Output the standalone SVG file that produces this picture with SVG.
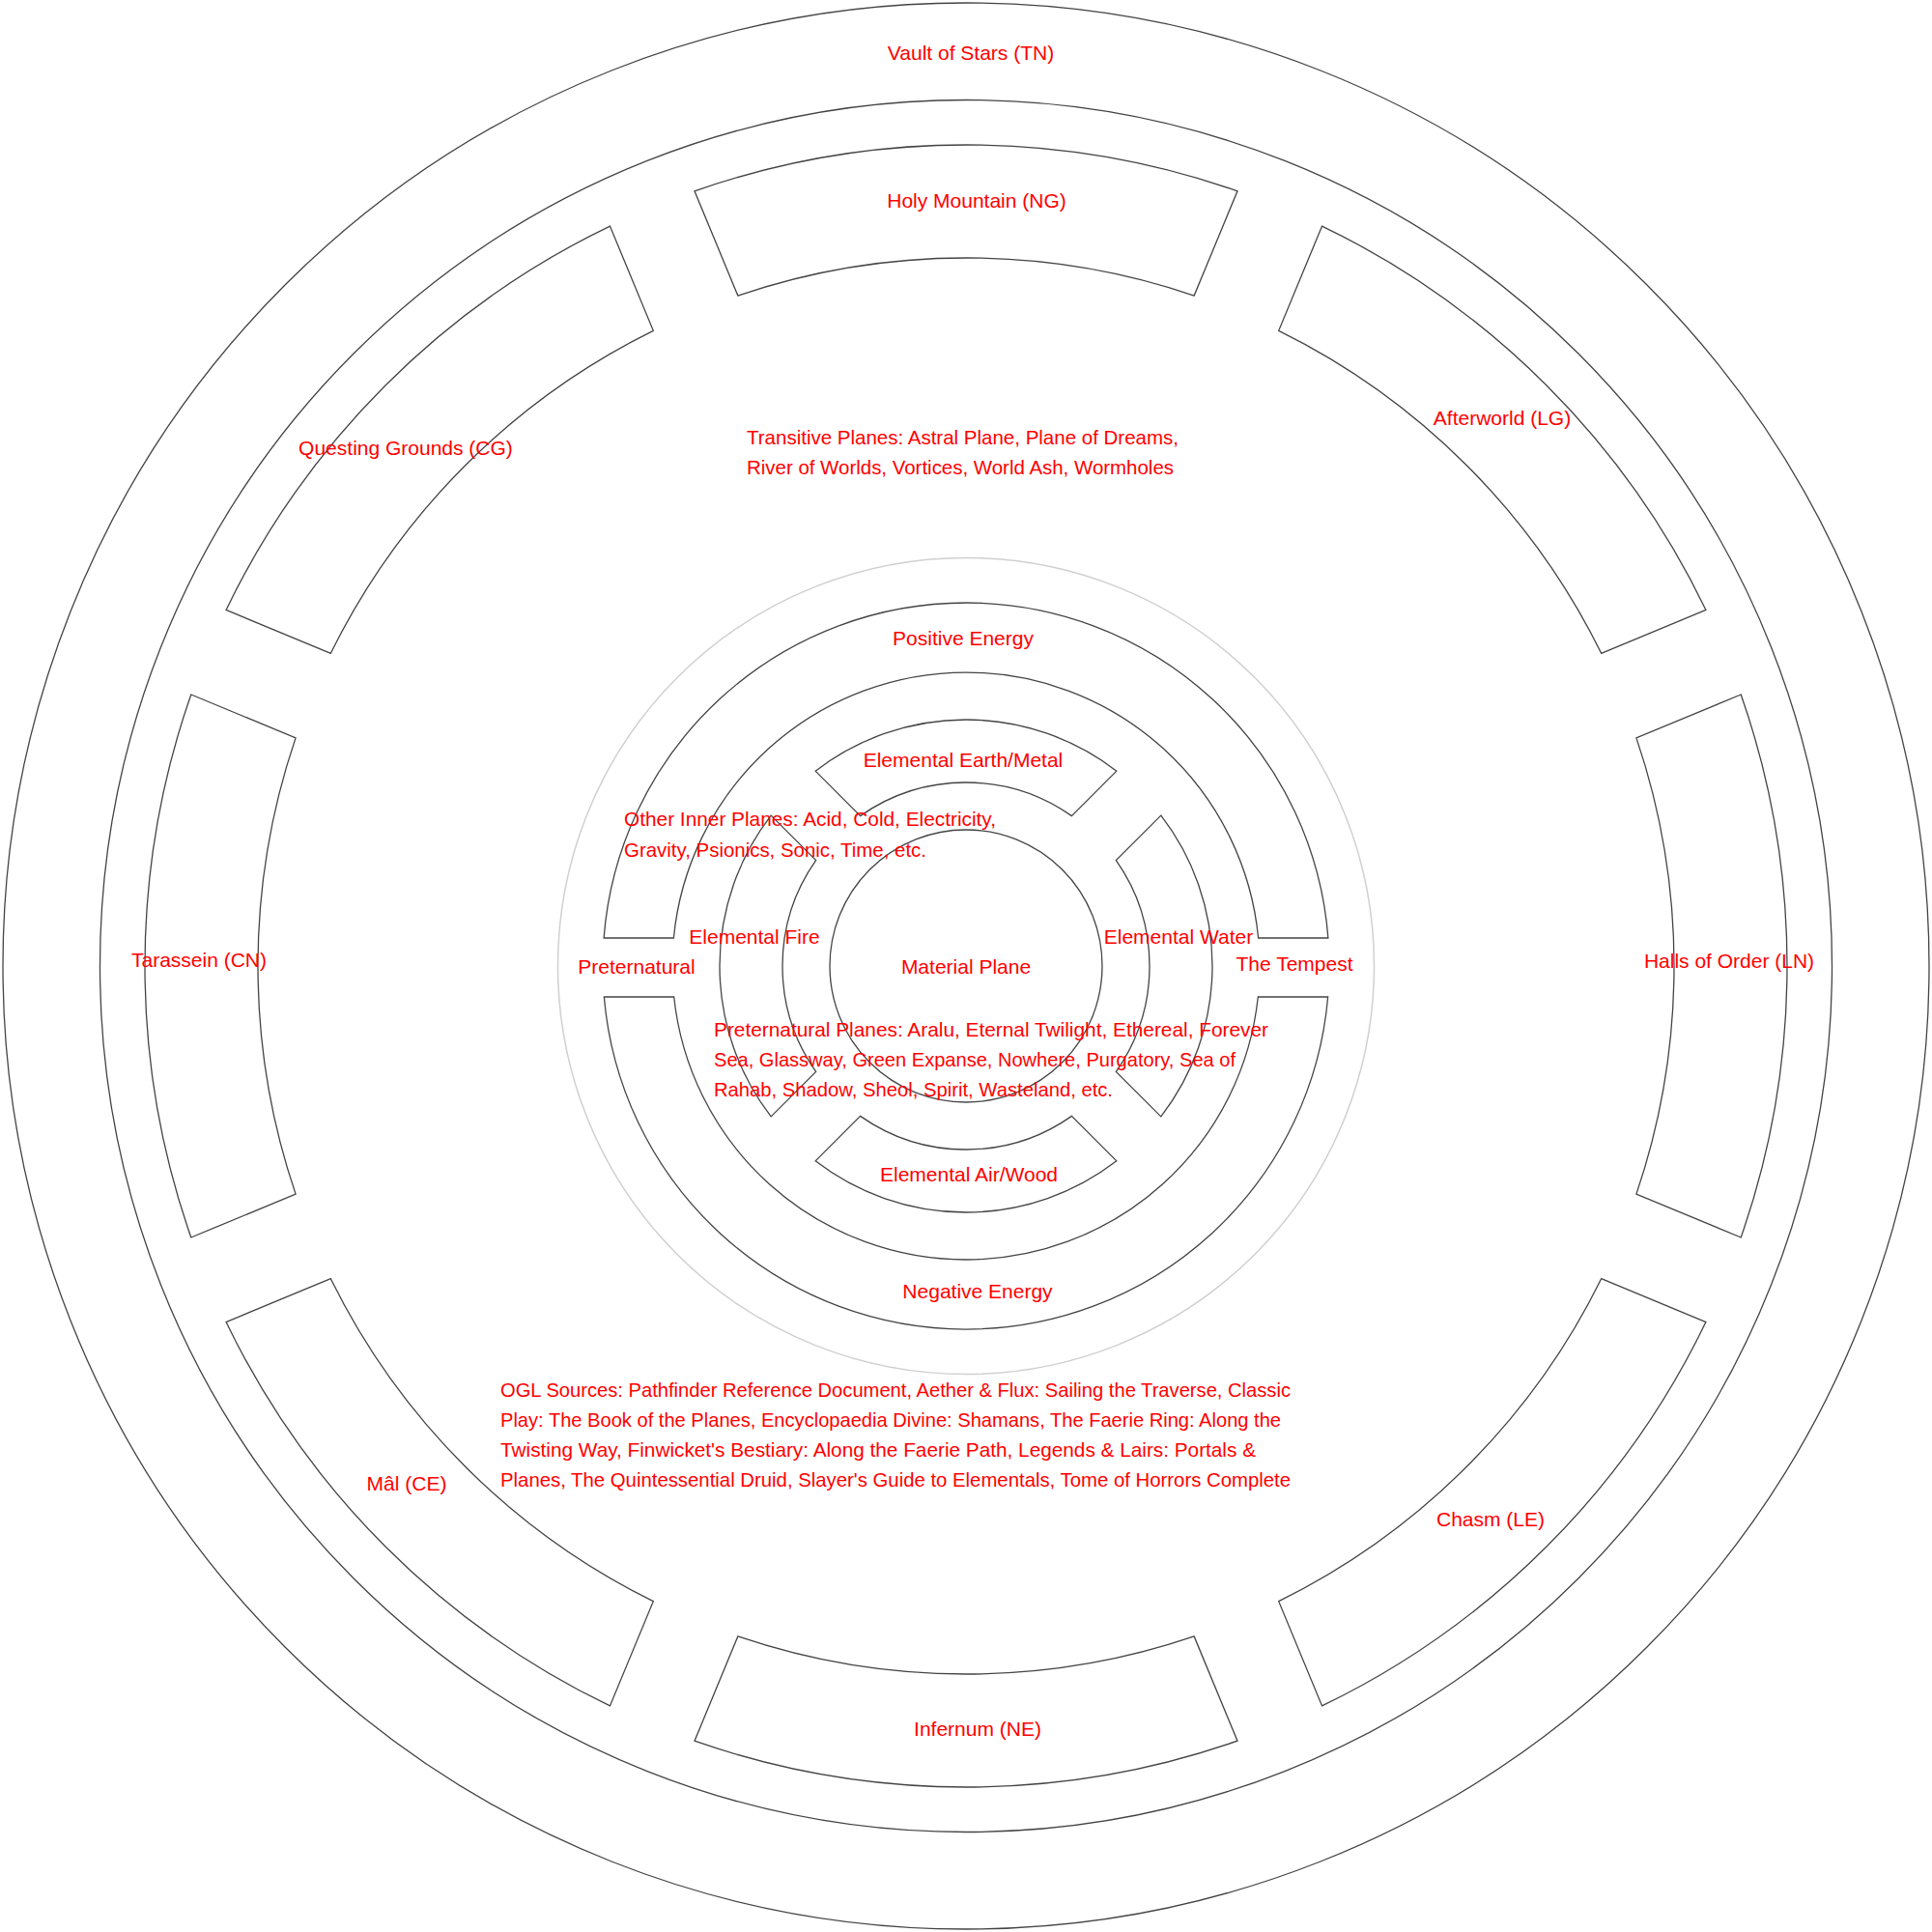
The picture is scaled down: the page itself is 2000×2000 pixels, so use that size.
<svg xmlns="http://www.w3.org/2000/svg" xmlns:xlink="http://www.w3.org/1999/xlink" width="2000" height="2000" viewBox="0 0 2000 2000">
<style>
  .line{fill:none;stroke:#444444;stroke-width:1.3}
  .halo{fill:none;stroke:#d0d0d0;stroke-width:1.5}
  text{font-family:"Liberation Sans",Arial,sans-serif;font-size:21px;fill:#ff0000}
  .c{text-anchor:middle}
</style>
<defs>
  <path id="outerSeg" d="M 719.01 197.79 A 850 850 0 0 1 1280.99 197.79 L 1236.13 306.08 A 733 733 0 0 0 763.87 306.08 Z"/>
  <path id="innerSeg" d="M 844.14 798.18 A 255 255 0 0 1 1155.86 798.18 L 1109.39 844.65 A 190 190 0 0 0 890.61 844.65 Z"/>
</defs>
<rect x="0" y="0" width="2000" height="2000" fill="#ffffff"/>

<g id="vault-of-stars">
  <circle class="line" cx="1000" cy="1000" r="997"/>
  <text class="c" x="1005" y="62">Vault of Stars (TN)</text>
</g>
<g id="outer-planes-ring">
  <circle class="line" cx="1000" cy="1000" r="896.5"/>
</g>

<g id="holy-mountain">
  <use href="#outerSeg" xlink:href="#outerSeg" class="line"/>
  <text class="c" x="1011" y="215">Holy Mountain (NG)</text>
</g>
<g id="afterworld">
  <use href="#outerSeg" xlink:href="#outerSeg" class="line" transform="rotate(45 1000 1000)"/>
  <text class="c" x="1555" y="440">Afterworld (LG)</text>
</g>
<g id="halls-of-order">
  <use href="#outerSeg" xlink:href="#outerSeg" class="line" transform="rotate(90 1000 1000)"/>
  <text class="c" x="1790" y="1002">Halls of Order (LN)</text>
</g>
<g id="chasm">
  <use href="#outerSeg" xlink:href="#outerSeg" class="line" transform="rotate(135 1000 1000)"/>
  <text class="c" x="1543" y="1580">Chasm (LE)</text>
</g>
<g id="infernum">
  <use href="#outerSeg" xlink:href="#outerSeg" class="line" transform="rotate(180 1000 1000)"/>
  <text class="c" x="1012" y="1797">Infernum (NE)</text>
</g>
<g id="mal">
  <use href="#outerSeg" xlink:href="#outerSeg" class="line" transform="rotate(225 1000 1000)"/>
  <text class="c" x="421" y="1543">Mâl (CE)</text>
</g>
<g id="tarassein">
  <use href="#outerSeg" xlink:href="#outerSeg" class="line" transform="rotate(270 1000 1000)"/>
  <text class="c" x="206" y="1001">Tarassein (CN)</text>
</g>
<g id="questing-grounds">
  <use href="#outerSeg" xlink:href="#outerSeg" class="line" transform="rotate(315 1000 1000)"/>
  <text class="c" x="420" y="471">Questing Grounds (CG)</text>
</g>

<g id="transitive-planes">
  <text x="773" y="460" textLength="447" lengthAdjust="spacingAndGlyphs">Transitive Planes: Astral Plane, Plane of Dreams,</text>
  <text x="773" y="491" textLength="442" lengthAdjust="spacingAndGlyphs">River of Worlds, Vortices, World Ash, Wormholes</text>
</g>

<g id="inner-boundary">
  <circle class="halo" cx="1000" cy="1000" r="422.5"/>
</g>

<g id="positive-energy">
  <path class="line" d="M 625.12 971 A 376 376 0 0 1 1374.88 971 L 1302.61 971 A 304 304 0 0 0 697.39 971 Z"/>
  <text class="c" x="997" y="668">Positive Energy</text>
</g>
<g id="negative-energy">
  <path class="line" d="M 625.36 1032 A 376 376 0 0 0 1374.64 1032 L 1302.31 1032 A 304 304 0 0 1 697.69 1032 Z"/>
  <text class="c" x="1012" y="1344">Negative Energy</text>
</g>
<g id="preternatural">
  <text class="c" x="659" y="1008">Preternatural</text>
</g>
<g id="the-tempest">
  <text class="c" x="1340" y="1005">The Tempest</text>
</g>

<g id="elemental-earth-metal">
  <use href="#innerSeg" xlink:href="#innerSeg" class="line"/>
  <text class="c" x="997" y="794">Elemental Earth/Metal</text>
</g>
<g id="elemental-water">
  <use href="#innerSeg" xlink:href="#innerSeg" class="line" transform="rotate(90 1000 1000)"/>
  <text class="c" x="1220" y="977">Elemental Water</text>
</g>
<g id="elemental-air-wood">
  <use href="#innerSeg" xlink:href="#innerSeg" class="line" transform="rotate(180 1000 1000)"/>
  <text class="c" x="1003" y="1223">Elemental Air/Wood</text>
</g>
<g id="elemental-fire">
  <use href="#innerSeg" xlink:href="#innerSeg" class="line" transform="rotate(270 1000 1000)"/>
  <text class="c" x="781" y="977">Elemental Fire</text>
</g>

<g id="material-plane">
  <circle class="line" cx="1000" cy="1000" r="141"/>
  <text class="c" x="1000" y="1008">Material Plane</text>
</g>

<g id="other-inner-planes">
  <text x="646" y="855" textLength="385" lengthAdjust="spacingAndGlyphs">Other Inner Planes: Acid, Cold, Electricity,</text>
  <text x="646" y="887" textLength="313" lengthAdjust="spacingAndGlyphs">Gravity, Psionics, Sonic, Time, etc.</text>
</g>

<g id="preternatural-planes">
  <text x="739" y="1073" textLength="574" lengthAdjust="spacingAndGlyphs">Preternatural Planes: Aralu, Eternal Twilight, Ethereal, Forever</text>
  <text x="739" y="1104" textLength="540" lengthAdjust="spacingAndGlyphs">Sea, Glassway, Green Expanse, Nowhere, Purgatory, Sea of</text>
  <text x="739" y="1135" textLength="413" lengthAdjust="spacingAndGlyphs">Rahab, Shadow, Sheol, Spirit, Wasteland, etc.</text>
</g>

<g id="ogl-sources">
  <text x="518" y="1446" textLength="818" lengthAdjust="spacingAndGlyphs">OGL Sources: Pathfinder Reference Document, Aether &amp; Flux: Sailing the Traverse, Classic</text>
  <text x="518" y="1477" textLength="808" lengthAdjust="spacingAndGlyphs">Play: The Book of the Planes, Encyclopaedia Divine: Shamans, The Faerie Ring: Along the</text>
  <text x="518" y="1508" textLength="782" lengthAdjust="spacingAndGlyphs">Twisting Way, Finwicket's Bestiary: Along the Faerie Path, Legends &amp; Lairs: Portals &amp;</text>
  <text x="518" y="1539" textLength="818" lengthAdjust="spacingAndGlyphs">Planes, The Quintessential Druid, Slayer's Guide to Elementals, Tome of Horrors Complete</text>
</g>
</svg>
